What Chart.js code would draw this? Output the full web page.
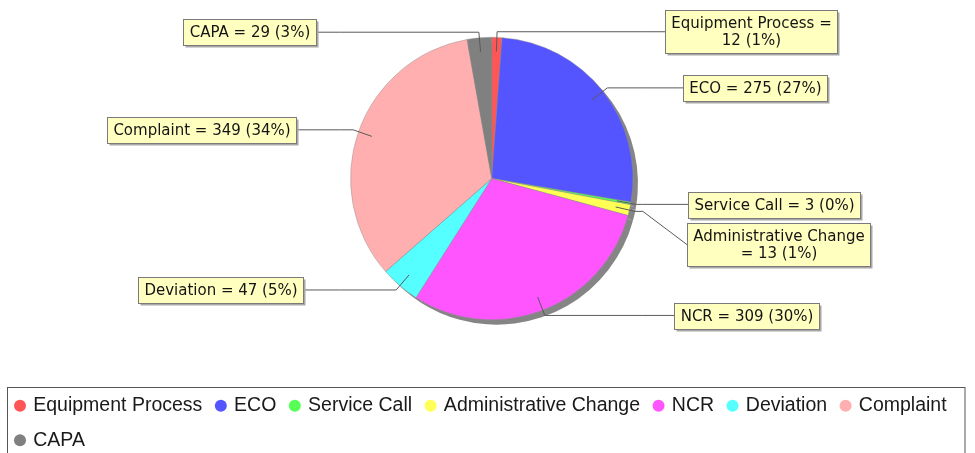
<!DOCTYPE html>
<html>
<head>
<meta charset="utf-8">
<script src="https://cdn.jsdelivr.net/npm/chart.js@4.4.1/dist/chart.umd.min.js"></script>
<style>
  html, body { margin: 0; padding: 0; background: #fff; }
  #wrap { width: 975px; height: 453px; }
</style>
</head>
<body>
<div id="wrap"><canvas id="pie"></canvas></div>
<script>
const categories = ['Equipment Process', 'ECO', 'Service Call', 'Administrative Change', 'NCR', 'Deviation', 'Complaint', 'CAPA'];
const counts = [12, 275, 3, 13, 309, 47, 349, 29];
const sliceColors = ['#ff5555', '#5555ff', '#55ff55', '#ffff55', '#ff55ff', '#55ffff', '#ffafaf', '#808080'];

// callout box placement: left edge for right-hand boxes, right edge for left-hand ones
const calloutEdgeX = [665, 683, 688, 687, 674, 303, 296, 316];

const LABEL_FONT = '15px "DejaVu Sans", Verdana, sans-serif';

function wrapText(ctx, text, maxW) {
    const words = text.split(' ');
    const lines = [];
    let cur = '';
    words.forEach(w => {
        const test = cur ? cur + ' ' + w : w;
        if (cur && ctx.measureText(test).width > maxW) {
            lines.push(cur);
            cur = w;
        } else {
            cur = test;
        }
    });
    lines.push(cur);
    return lines;
}

const callouts = {
    id: 'callouts',
    afterLayout(chart) {
        // legend hugs the left edge a bit more than the pie padding allows
        chart.legend.left -= 7;
        chart.legend.right -= 7;
    },
    beforeDatasetsDraw(chart) {
        // grey drop shadow behind the pie
        const ctx = chart.ctx;
        const arcs = chart.getDatasetMeta(0).data;
        ctx.save();
        ctx.fillStyle = '#858585';
        arcs.forEach(a => {
            ctx.beginPath();
            ctx.moveTo(a.x + 5, a.y + 5);
            ctx.arc(a.x + 5, a.y + 5, a.outerRadius, a.startAngle, a.endAngle);
            ctx.closePath();
            ctx.fill();
        });
        ctx.restore();
    },
    afterDatasetsDraw(chart) {
        const ctx = chart.ctx;
        const arcs = chart.getDatasetMeta(0).data;
        const total = counts.reduce((s, v) => s + v, 0);
        const lineH = 17.5, padX = 6, padY = 4, gap = 6;

        ctx.save();
        ctx.font = LABEL_FONT;

        const items = arcs.map((a, i) => {
            const mid = (a.startAngle + a.endAngle) / 2;
            const cos = Math.cos(mid), sin = Math.sin(mid);
            const R = a.outerRadius;
            const right = cos >= 0;
            const text = categories[i] + ' = ' + counts[i] + ' (' + Math.round(counts[i] / total * 100) + '%)';
            const lines = wrapText(ctx, text, 181);
            const w = Math.max(...lines.map(l => ctx.measureText(l).width)) + padX * 2;
            const h = lines.length * lineH + padY * 2;
            const elbowY = a.y + sin * R * 1.04;
            return {
                i, right, lines, w, h,
                link: [a.x + cos * R * 0.9, a.y + sin * R * 0.9],
                elbow: [a.x + cos * R * 1.04, elbowY],
                anchorX: a.x + (right ? 1 : -1) * R * 1.07,
                y: elbowY
            };
        });

        // push boxes apart on each side
        [true, false].forEach(side => {
            const col = items.filter(it => it.right === side).sort((p, q) => p.y - q.y);
            let bottom = 4 - gap;
            col.forEach(it => {
                let top = it.y - it.h / 2;
                if (top < bottom + gap) top = bottom + gap;
                it.y = top + it.h / 2;
                bottom = top + it.h;
            });
        });

        // leader lines
        ctx.strokeStyle = '#5a5a5a';
        ctx.lineWidth = 1;
        items.forEach(it => {
            const edge = calloutEdgeX[it.i];
            ctx.beginPath();
            ctx.moveTo(it.link[0], it.link[1]);
            ctx.lineTo(it.elbow[0], it.elbow[1]);
            ctx.lineTo(it.anchorX, it.elbow[1]);
            ctx.lineTo(edge, it.y);
            ctx.stroke();
        });

        // boxes
        items.forEach(it => {
            const edge = calloutEdgeX[it.i];
            const x = Math.round(it.right ? edge : edge - it.w) + 0.5;
            const y = Math.round(it.y - it.h / 2) + 0.5;
            const w = Math.round(it.w), h = Math.round(it.h);
            ctx.fillStyle = '#a8a8a8';
            ctx.fillRect(x + 2, y + 2, w, h);
            ctx.fillStyle = '#ffffc0';
            ctx.fillRect(x, y, w, h);
            ctx.strokeStyle = '#7a7a7a';
            ctx.strokeRect(x, y, w, h);
            ctx.fillStyle = '#141414';
            ctx.textAlign = 'center';
            ctx.textBaseline = 'middle';
            it.lines.forEach((l, k) => {
                ctx.fillText(l, x + w / 2, y + padY + lineH * (k + 0.5) + 0.5);
            });
        });
        ctx.restore();
    }
};

const legendFrame = {
    id: 'legendFrame',
    afterDraw(chart) {
        const lg = chart.legend;
        const ctx = chart.ctx;
        ctx.save();
        ctx.strokeStyle = '#555';
        ctx.lineWidth = 1;
        const left = 7.5, top = Math.round(lg.top + 6) + 0.5;
        ctx.strokeRect(left, top, chart.width - 10 - left, chart.height + 10 - top);
        ctx.restore();
    }
};

new Chart(document.getElementById('pie'), {
    type: 'pie',
    data: {
        labels: categories,
        datasets: [{
            data: counts,
            backgroundColor: sliceColors,
            borderColor: 'rgba(140,140,140,0.7)',
            borderWidth: 0.6
        }]
    },
    options: {
        responsive: true,
        maintainAspectRatio: false,
        animation: false,
        layout: { padding: { top: 37, left: 8.5, right: 0, bottom: -7 } },
        plugins: {
            tooltip: { enabled: false },
            // empty spacer between the pie and the legend
            title: {
                display: true,
                position: 'bottom',
                weight: 500,
                text: '',
                padding: { top: 25, bottom: 26 },
                font: { size: 10, lineHeight: 1 }
            },
            legend: {
                position: 'bottom',
                align: 'start',
                labels: {
                    usePointStyle: true,
                    pointStyle: 'circle',
                    boxWidth: 7,
                    boxHeight: 8.5,
                    padding: 15,
                    color: '#1a1a1a',
                    font: { family: '"Liberation Sans", Arial, sans-serif', size: 19.5 },
                    generateLabels(chart) {
                        return Chart.overrides.doughnut.plugins.legend.labels.generateLabels(chart)
                            .map(l => Object.assign(l, { lineWidth: 0 }));
                    }
                }
            }
        }
    },
    plugins: [callouts, legendFrame]
});
</script>
</body>
</html>
